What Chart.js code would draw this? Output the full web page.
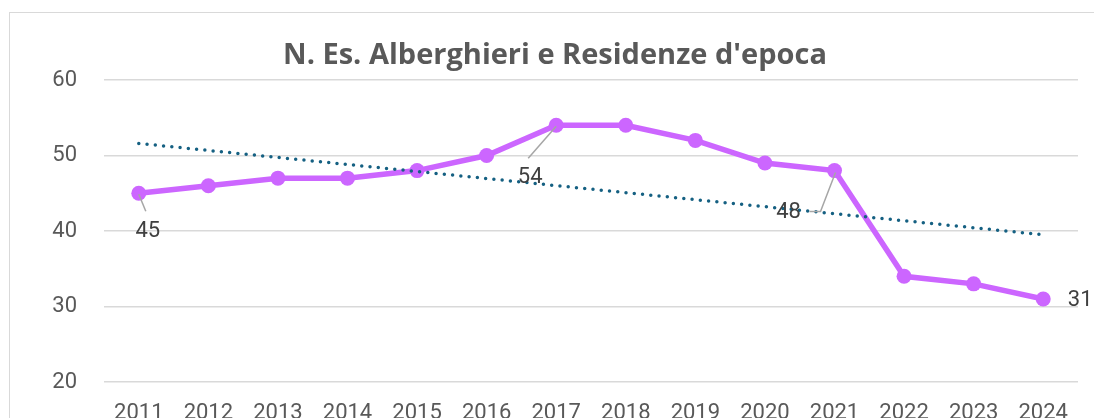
<!DOCTYPE html>
<html>
<head>
<meta charset="utf-8">
<script src="https://cdn.jsdelivr.net/npm/chart.js@4/dist/chart.umd.min.js"></script>
<style>
  html, body { margin: 0; padding: 0; background: #ffffff; overflow: hidden; }
  #wrap { position: absolute; left: 0; top: 0; width: 1094px; height: 418px; }
</style>
</head>
<body>
<div id="wrap"><canvas id="c" width="1094" height="418"></canvas></div>
<script>
const titleText = "N. Es. Alberghieri e Residenze d'epoca";
const years = ["2011","2012","2013","2014","2015","2016","2017","2018","2019","2020","2021","2022","2023","2024"];
const esercizi = [45, 46, 47, 47, 48, 50, 54, 54, 52, 49, 48, 34, 33, 31];
// linear trend line (start and end values)
const trendValues = [51.6, null, null, null, null, null, null, null, null, null, null, null, null, 39.5];
const yTicks = [20, 30, 40, 50, 60];

// label placement (pixel offsets from the point), style only
const labelSpecs = [
  { index: 0,  dx: 9,   dy: 38, leader: [[0, 1], [7, 18]] },
  { index: 6,  dx: -26, dy: 52, leader: [[0, 1], [-28, 33]] },
  { index: 10, dx: -46, dy: 42, leader: [[1, 2], [-14, 41], [-25, 41]] },
  { index: 13, dx: 37,  dy: 2,  leader: null }
];

const FONT = 'Roboto, "Liberation Sans", Arial, sans-serif';

const frameAndTitle = {
  id: 'frameAndTitle',
  beforeDraw(chart) {
    const ctx = chart.ctx;
    ctx.save();
    ctx.fillStyle = '#ffffff';
    ctx.fillRect(0, 0, chart.width, chart.height);
    ctx.strokeStyle = '#D9D9D9';
    ctx.lineWidth = 1;
    ctx.strokeRect(9.5, 12.5, 1200, 600);
    ctx.restore();
  },
  afterDraw(chart) {
    const ctx = chart.ctx;
    ctx.save();
    ctx.fillStyle = '#595959';
    ctx.font = 'bold 29px "Open Sans", sans-serif';
    ctx.textAlign = 'center';
    ctx.textBaseline = 'alphabetic';
    ctx.fillText(titleText, 555, 64);
    ctx.restore();
  }
};

const dataLabels = {
  id: 'dataLabels',
  afterDatasetsDraw(chart) {
    const ctx = chart.ctx;
    const meta = chart.getDatasetMeta(1);
    ctx.save();
    labelSpecs.forEach(s => {
      const el = meta.data[s.index];
      const x = el.x, y = el.y;
      if (s.leader) {
        ctx.strokeStyle = '#A6A6A6';
        ctx.lineWidth = 1.5;
        ctx.beginPath();
        s.leader.forEach((p, i) => {
          if (i === 0) ctx.moveTo(x + p[0], y + p[1]); else ctx.lineTo(x + p[0], y + p[1]);
        });
        ctx.stroke();
      }
      ctx.fillStyle = '#404040';
      ctx.font = '22px ' + FONT;
      ctx.textAlign = 'center';
      ctx.textBaseline = 'middle';
      ctx.fillText(String(esercizi[s.index]), x + s.dx, y + s.dy);
    });
    ctx.restore();
  }
};

new Chart(document.getElementById('c'), {
  type: 'line',
  data: {
    labels: years,
    datasets: [
      {
        label: 'Tendenza',
        data: trendValues,
        spanGaps: true,
        borderColor: '#156082',
        borderWidth: 3.5,
        borderDash: [0, 8.3],
        borderCapStyle: 'round',
        pointRadius: 0,
        fill: false,
        order: 0
      },
      {
        label: 'N. Es. Alberghieri e Residenze d\'epoca',
        data: esercizi,
        borderColor: '#CC66FF',
        backgroundColor: '#CC66FF',
        borderWidth: 5.5,
        pointRadius: 7.5,
        pointBorderWidth: 0,
        pointBackgroundColor: '#CC66FF',
        tension: 0,
        fill: false,
        order: 1
      }
    ]
  },
  options: {
    responsive: false,
    animation: false,
    layout: { padding: { top: 80, right: 16, left: 0, bottom: 0 } },
    plugins: {
      legend: { display: false },
      title: { display: false },
      tooltip: { enabled: false }
    },
    scales: {
      x: {
        type: 'category',
        offset: true,
        grid: { display: false, drawTicks: false },
        border: { display: false },
        ticks: {
          color: '#595959',
          font: { family: FONT, size: 22 },
          padding: 18,
          maxRotation: 0,
          autoSkip: false
        },
        afterFit(scale) { scale.height = 36; scale.paddingLeft = 0; scale.paddingRight = 0; }
      },
      y: {
        min: 20,
        max: 60,
        afterBuildTicks(scale) { scale.ticks = yTicks.map(v => ({ value: v })); },
        grid: { color: '#D9D9D9', lineWidth: 1.5, drawTicks: false },
        border: { display: false },
        ticks: {
          color: '#595959',
          font: { family: FONT, size: 22 },
          padding: 27
        },
        afterFit(scale) { scale.width = 104; scale.paddingTop = 0; scale.paddingBottom = 0; }
      }
    }
  },
  plugins: [frameAndTitle, dataLabels]
});
</script>
</body>
</html>
